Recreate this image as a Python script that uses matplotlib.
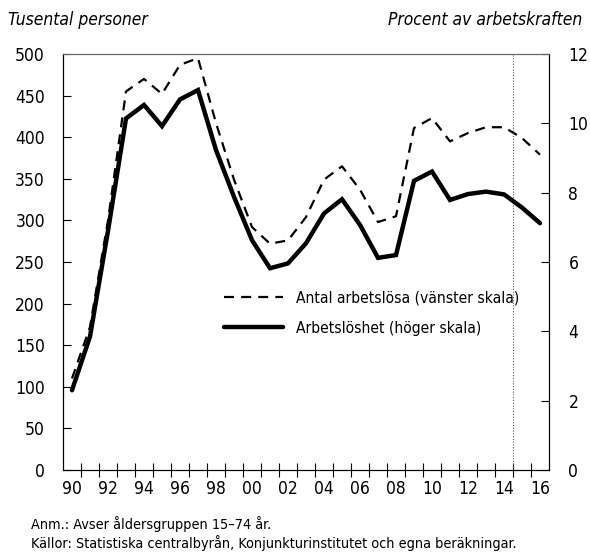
import matplotlib
matplotlib.use("Agg")
import matplotlib.pyplot as plt
import numpy as np

plt.rcParams['font.family'] = ['DejaVu Sans']
plt.rcParams['font.stretch'] = 'condensed'

years = list(range(1990, 2017))
antal = [110, 172, 300, 455, 470, 452, 487, 495, 417, 349, 292, 272, 276, 304,
         349, 365, 337, 298, 305, 411, 423, 395, 405, 412, 412, 399, 379]
procent = [2.3, 3.85, 6.9, 10.14, 10.53, 9.92, 10.69, 10.96, 9.23, 7.88, 6.63, 5.82,
           5.96, 6.54, 7.40, 7.81, 7.07, 6.12, 6.20, 8.34, 8.61, 7.79, 7.96, 8.03,
           7.95, 7.57, 7.12]
left_ticks = [0, 50, 100, 150, 200, 250, 300, 350, 400, 450, 500]
right_ticks = [0, 2, 4, 6, 8, 10, 12]
label_years = list(range(1990, 2017, 2))
label_texts = ["90", "92", "94", "96", "98", "00", "02", "04", "06", "08", "10", "12", "14", "16"]
forecast_start = 2014.5

fig = plt.figure(figsize=(5.9, 5.53), dpi=100)
ax = fig.add_axes([63/590, 1-470/553, (549-63)/590, (470-54)/553])
ax2 = ax.twinx()

ax.plot(years, antal, color='black', lw=1.6, linestyle=(0, (4.5, 3.2)),
        label='Antal arbetslösa (vänster skala)')
ax2.plot(years, procent, color='black', lw=3.2, solid_capstyle='round',
         solid_joinstyle='miter', label='Arbetslöshet (höger skala)')
ax.axvline(forecast_start, color='#555555', lw=0.8, linestyle=(0, (1, 1.5)))

ax.set_xlim(1989.5, 2016.5)
ax.set_ylim(0, 500)
ax2.set_ylim(0, 12)
ax.set_yticks(left_ticks)
ax2.set_yticks(right_ticks)
ax.set_xticks(label_years)
ax.set_xticklabels(label_texts)
ax.set_xticks(np.arange(1990.5, 2016.5, 1), minor=True)
ax.tick_params(axis='x', which='major', length=0, pad=7, labelsize=12.5)
ax.tick_params(axis='x', which='minor', direction='inout', length=10, width=0.8)
ax.tick_params(axis='y', direction='in', length=6, width=0.8, pad=13, labelsize=12.5)
ax2.tick_params(axis='y', direction='in', length=6, width=0.8, pad=14, labelsize=12.5)

for a in (ax, ax2):
    a.spines['top'].set_color('#666666')
    a.spines['top'].set_linewidth(0.8)
    for s in ('left', 'right', 'bottom'):
        a.spines[s].set_linewidth(0.8)

h1, l1 = ax.get_legend_handles_labels()
h2, l2 = ax2.get_legend_handles_labels()
leg = ax2.legend(h1 + h2, l1 + l2, loc='upper left', bbox_to_anchor=(0.318, 0.446),
                 frameon=False, fontsize=11.2, handlelength=3.8, handletextpad=0.85,
                 labelspacing=0.98, borderaxespad=0)

fig.text(8/590, 1-20/553, 'Tusental personer', fontsize=12.5, style='italic',
         ha='left', va='center')
fig.text(582/590, 1-20/553, 'Procent av arbetskraften', fontsize=12.5, style='italic',
         ha='right', va='center')
fig.text(31/590, 1-524/553, 'Anm.: Avser åldersgruppen 15–74 år.', fontsize=10.4,
         ha='left', va='center')
fig.text(31/590, 1-543/553, 'Källor: Statistiska centralbyrån, Konjunkturinstitutet och egna beräkningar.',
         fontsize=10.4, ha='left', va='center')

fig.savefig('out.png', dpi=100)
